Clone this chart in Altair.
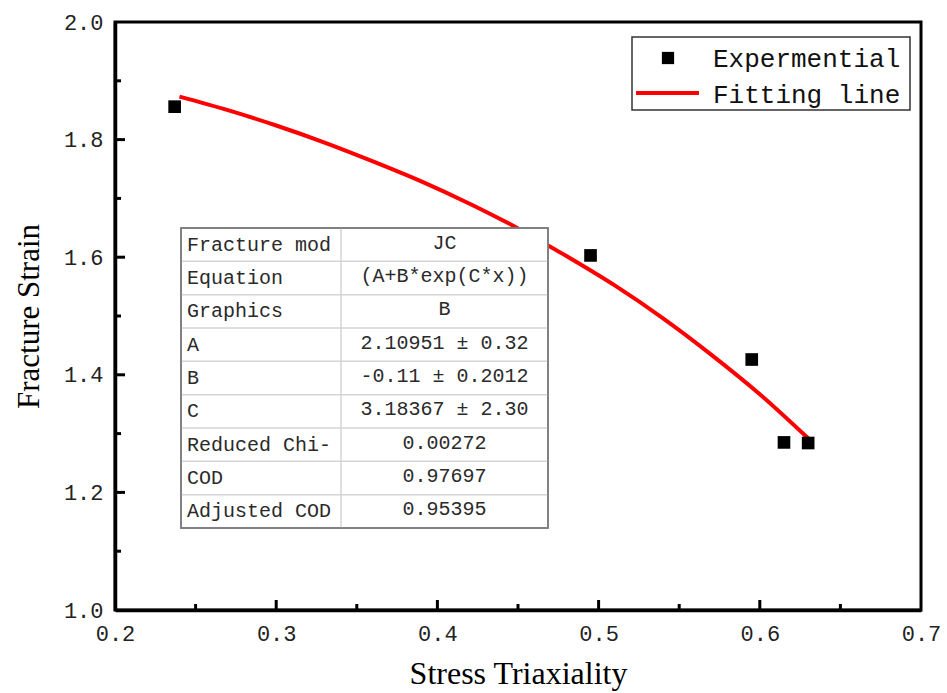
import altair as alt
import pandas as pd

# ---------------- data ----------------
exp_x = [0.237, 0.495, 0.595, 0.615, 0.630]
exp_y = [1.856, 1.603, 1.426, 1.285, 1.284]

fit_x = [0.24, 0.27, 0.30, 0.33, 0.36, 0.39, 0.42, 0.45, 0.48, 0.51, 0.54, 0.57, 0.60, 0.63]
fit_y = [1.873, 1.850, 1.824, 1.795, 1.763, 1.729, 1.691, 1.649, 1.602, 1.552, 1.496, 1.434, 1.367, 1.292]

x_major = [0.2, 0.3, 0.4, 0.5, 0.6, 0.7]
x_minor = [0.25, 0.35, 0.45, 0.55, 0.65]
y_major = [1.0, 1.2, 1.4, 1.6, 1.8, 2.0]
y_minor = [1.1, 1.3, 1.5, 1.7, 1.9]

table_labels = ["Fracture mod", "Equation", "Graphics", "A", "B", "C",
                "Reduced Chi-", "COD", "Adjusted COD"]
table_values = ["JC", "(A+B*exp(C*x))", "B", "2.10951 ± 0.32", "-0.11 ± 0.2012",
                "3.18367 ± 2.30", "0.00272", "0.97697", "0.95395"]

legend_labels = ["Expermential", "Fitting line"]

# ---------------- layout ----------------
W, H = 806, 588
X0, X1, Y0, Y1 = 0.2, 0.7, 1.0, 2.0


def px2x(px):
    return X0 + px / W * (X1 - X0)


def py2y(py):
    return Y1 - py / H * (Y1 - Y0)


xs = alt.Scale(domain=[X0, X1], nice=False, zero=False)
ys = alt.Scale(domain=[Y0, Y1], nice=False, zero=False)

MONO = "Liberation Mono"
SERIF = "Liberation Serif"

pts = pd.DataFrame({"x": exp_x, "y": exp_y})
fit = pd.DataFrame({"x": fit_x, "y": fit_y})

base_x = alt.X("x:Q", scale=xs,
               axis=alt.Axis(values=x_major, format=".1f", tickSize=0, labelPadding=13,
                             labelFont=MONO, labelFontSize=22, labelColor="#222",
                             labelFlush=False, grid=False,
                             domainColor="black", domainWidth=3.5,
                             title="Stress Triaxiality", titleFont=SERIF, titleFontSize=32,
                             titleFontWeight="normal", titleColor="black", titlePadding=14))
base_y = alt.Y("y:Q", scale=ys,
               axis=alt.Axis(values=y_major, format=".1f", tickSize=0, labelPadding=12,
                             labelFont=MONO, labelFontSize=22, labelColor="#222",
                             labelFlush=False, grid=False,
                             domainColor="black", domainWidth=3.5,
                             title="Fracture Strain", titleFont=SERIF, titleFontSize=31,
                             titleFontWeight="normal", titleColor="black", titlePadding=18))

curve = alt.Chart(fit).mark_line(color="#ff0000", strokeWidth=4, interpolate="monotone").encode(
    x=base_x, y=base_y)
points = alt.Chart(pts).mark_square(color="black", size=160, opacity=1).encode(
    x=alt.X("x:Q", scale=xs), y=alt.Y("y:Q", scale=ys))

# inside ticks
def xt(vals, ln):
    return alt.Chart(pd.DataFrame({"x": vals})).mark_rule(color="black", strokeWidth=3).encode(
        x=alt.X("x:Q", scale=xs), y=alt.value(H), y2=alt.value(H - ln))


def yt(vals, ln):
    return alt.Chart(pd.DataFrame({"y": vals})).mark_rule(color="black", strokeWidth=3).encode(
        y=alt.Y("y:Q", scale=ys), x=alt.value(0), x2=alt.value(ln))


ticks = [xt(x_major[1:-1], 10), xt(x_minor, 6), yt(y_major[1:-1], 10), yt(y_minor, 6)]

# ---------------- fit table ----------------
TL, TS, TR, TT, TB = 66, 226, 433, 206, 506
n = len(table_labels)
rh = (TB - TT) / n
tab_rows = pd.DataFrame({
    "label": table_labels,
    "value": table_values,
    "xl": [px2x(TL + 6)] * n,
    "xv": [px2x((TS + TR) / 2)] * n,
    "y": [py2y(TT + rh * (i + 0.5)) for i in range(n)],
    "yv": [py2y(TT + rh * (i + 0.5) - 2) for i in range(n)],
})
tab_box = pd.DataFrame({"x": [px2x(TL)], "x2": [px2x(TR)], "y": [py2y(TT)], "y2": [py2y(TB)]})
hlines = pd.DataFrame({"x": [px2x(TL)] * (n - 1), "x2": [px2x(TR)] * (n - 1),
                       "y": [py2y(TT + rh * (i + 1)) for i in range(n - 1)]})
vline = pd.DataFrame({"x": [px2x(TS)], "y": [py2y(TT)], "y2": [py2y(TB)]})

box_fill = alt.Chart(tab_box).mark_rect(fill="white", stroke="#7a7a7a", strokeWidth=1.5).encode(
    x=alt.X("x:Q", scale=xs), x2="x2:Q", y=alt.Y("y:Q", scale=ys), y2="y2:Q")
h_rules = alt.Chart(hlines).mark_rule(color="#d4d4d4", strokeWidth=1.5).encode(
    x=alt.X("x:Q", scale=xs), x2="x2:Q", y=alt.Y("y:Q", scale=ys))
v_rule = alt.Chart(vline).mark_rule(color="#d4d4d4", strokeWidth=1.5).encode(
    x=alt.X("x:Q", scale=xs), y=alt.Y("y:Q", scale=ys), y2="y2:Q")
box_edge = alt.Chart(tab_box).mark_rect(fill=None, stroke="#7a7a7a", strokeWidth=1.5).encode(
    x=alt.X("x:Q", scale=xs), x2="x2:Q", y=alt.Y("y:Q", scale=ys), y2="y2:Q")
lab_text = alt.Chart(tab_rows).mark_text(font=MONO, fontSize=20, align="left", baseline="middle",
                                         color="#2a2a2a").encode(
    x=alt.X("xl:Q", scale=xs), y=alt.Y("y:Q", scale=ys), text="label:N")
val_text = alt.Chart(tab_rows).mark_text(font=MONO, fontSize=20, align="center", baseline="middle",
                                         color="#2a2a2a").encode(
    x=alt.X("xv:Q", scale=xs), y=alt.Y("yv:Q", scale=ys), text="value:N")

# ---------------- legend ----------------
one = pd.DataFrame({"k": [0]})
leg_box = alt.Chart(one).mark_rect(fill="white", stroke="#333", strokeWidth=1.5).encode(
    x=alt.value(517), x2=alt.value(795), y=alt.value(15), y2=alt.value(88))
leg_sq = alt.Chart(one).mark_square(color="black", size=150, opacity=1).encode(
    x=alt.value(553), y=alt.value(36))
leg_line = alt.Chart(one).mark_rule(color="#ff0000", strokeWidth=4).encode(
    x=alt.value(521), x2=alt.value(584), y=alt.value(71))
leg_t1 = alt.Chart(one).mark_text(font=MONO, fontSize=26, align="left", baseline="middle",
                                  color="#111").encode(
    x=alt.value(598), y=alt.value(37), text=alt.value(legend_labels[0]))
leg_t2 = alt.Chart(one).mark_text(font=MONO, fontSize=26, align="left", baseline="middle",
                                  color="#111").encode(
    x=alt.value(598), y=alt.value(73), text=alt.value(legend_labels[1]))

chart = alt.layer(
    curve, points, *ticks,
    box_fill, h_rules, v_rule, box_edge, lab_text, val_text,
    leg_box, leg_sq, leg_line, leg_t1, leg_t2,
).properties(
    width=W, height=H,
    autosize=alt.AutoSizeParams(type="none"),
    padding={"left": 115, "top": 22, "right": 26, "bottom": 83},
    background="white",
).configure_view(stroke="black", strokeWidth=3)

chart.save("out.html", embed_options={"renderer": "svg", "actions": False})
